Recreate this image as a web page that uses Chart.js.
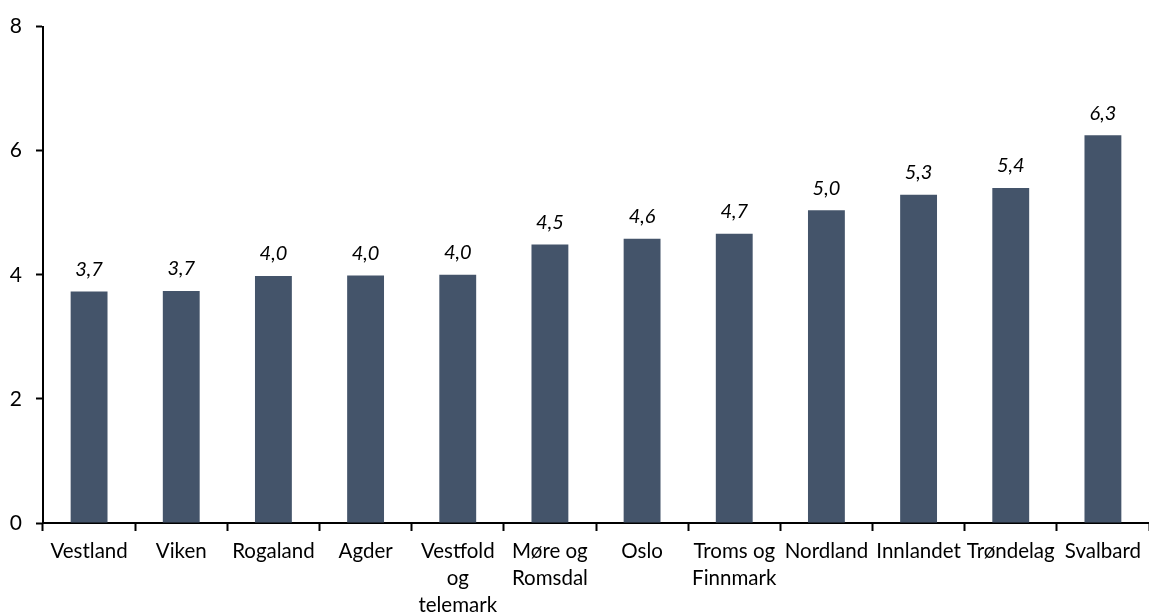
<!DOCTYPE html>
<html lang="no">
<head>
    <meta charset="UTF-8">
    <script src="https://cdn.jsdelivr.net/npm/chart.js"></script>
    <title>Fylker</title>
    <style>
        html, body {
            margin: 0;
            padding: 0;
            background: #ffffff;
        }
        .chart-container {
            position: relative;
            width: 1149px;
            height: 616px;
        }
    </style>
</head>
<body>
<div class="chart-container">
    <canvas id="barChart"></canvas>
</div>

<script>
    // Data
    const regions = [
        'Vestland', 'Viken', 'Rogaland', 'Agder',
        ['Vestfold', 'og', 'telemark'], ['Møre og', 'Romsdal'], 'Oslo',
        ['Troms og', 'Finnmark'], 'Nordland', 'Innlandet', 'Trøndelag', 'Svalbard'
    ];
    const values = [3.73, 3.74, 3.98, 3.99, 4.0, 4.49, 4.58, 4.66, 5.04, 5.29, 5.40, 6.25];
    const yTicks = [0, 2, 4, 6, 8];

    const fontFamily = 'Lato, "Open Sans", sans-serif';

    // Simple value labels above each bar (comma decimal, italic)
    const valueLabels = {
        id: 'valueLabels',
        afterDatasetsDraw(chart) {
            const ctx = chart.ctx;
            const meta = chart.getDatasetMeta(0);
            ctx.save();
            ctx.font = 'italic 20px ' + fontFamily;
            ctx.fillStyle = '#000000';
            ctx.textAlign = 'center';
            ctx.textBaseline = 'middle';
            meta.data.forEach((bar, i) => {
                const txt = values[i].toFixed(1).replace('.', ',');
                ctx.fillText(txt, bar.x, bar.y - 22);
            });
            ctx.restore();
        }
    };

    const ctx = document.getElementById('barChart').getContext('2d');
    const barChart = new Chart(ctx, {
        type: 'bar',
        data: {
            labels: regions,
            datasets: [{
                data: values,
                backgroundColor: '#44546a',
                borderWidth: 0,
                barPercentage: 0.4,
                categoryPercentage: 1.0
            }]
        },
        options: {
            responsive: true,
            maintainAspectRatio: false,
            animation: false,
            layout: {
                padding: { top: 22, right: 0, left: 0, bottom: 0 }
            },
            plugins: {
                legend: { display: false },
                tooltip: { enabled: false }
            },
            scales: {
                x: {
                    grid: {
                        display: true,
                        drawOnChartArea: false,
                        drawTicks: true,
                        tickLength: 8,
                        tickColor: '#000000',
                        tickWidth: 2
                    },
                    border: { color: '#000000', width: 2 },
                    ticks: {
                        color: '#000000',
                        maxRotation: 0,
                        autoSkip: false,
                        padding: 7,
                        font: { family: fontFamily, size: 20.5, lineHeight: 1.32 }
                    },
                    afterFit(scale) { scale.height = 93; }
                },
                y: {
                    min: 0,
                    max: 8,
                    afterBuildTicks(scale) {
                        scale.ticks = yTicks.map(v => ({ value: v }));
                    },
                    grid: {
                        display: true,
                        drawOnChartArea: false,
                        drawTicks: true,
                        tickLength: 7,
                        tickColor: '#000000',
                        tickWidth: 2
                    },
                    border: { color: '#000000', width: 2 },
                    ticks: {
                        color: '#000000',
                        padding: 14,
                        font: { family: fontFamily, size: 21 }
                    },
                    afterFit(scale) { scale.width = 43; }
                }
            }
        },
        plugins: [valueLabels]
    });
</script>
</body>
</html>
